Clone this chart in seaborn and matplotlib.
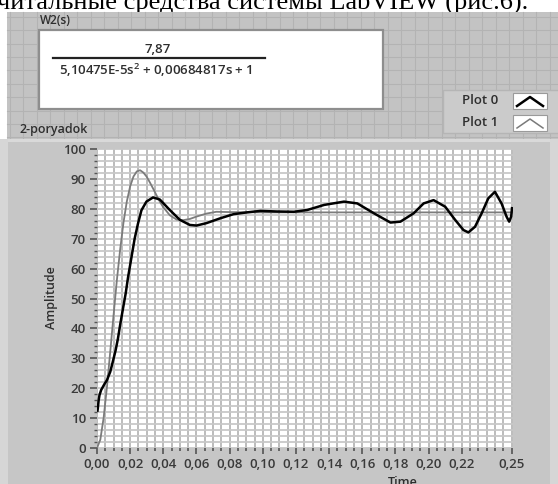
import matplotlib
matplotlib.use("Agg")
import numpy as np
import pandas as pd
import seaborn as sns
import matplotlib.pyplot as plt
from matplotlib.patches import Rectangle
from matplotlib.ticker import FixedLocator, FixedFormatter, MultipleLocator

# ---------------- data ----------------
# Plot 1 (gray): model step response
t_plot1 = [0.0, 0.002, 0.004, 0.006, 0.008, 0.010, 0.012, 0.014, 0.016, 0.018,
           0.020, 0.022, 0.024, 0.026, 0.028, 0.030, 0.032, 0.034, 0.036, 0.038,
           0.040, 0.044, 0.048, 0.052, 0.056, 0.060, 0.066, 0.072, 0.080, 0.100,
           0.150, 0.200, 0.2503]
a_plot1 = [0.0, 2.8, 10.1, 20.4, 32.3, 44.5, 56.2, 66.6, 75.5, 82.5,
           87.5, 90.8, 92.5, 92.9, 92.1, 90.7, 88.7, 86.6, 84.4, 82.3,
           80.5, 77.8, 76.4, 76.2, 76.6, 77.4, 78.4, 79.0, 78.9, 78.8,
           78.8, 78.8, 78.8]

# Plot 0 (black): measured response
t_plot0 = [0.0003, 0.0005, 0.001, 0.0015, 0.0025, 0.0045, 0.006, 0.008, 0.0096, 0.0112,
           0.0126, 0.014, 0.0156, 0.0173, 0.0187, 0.0207, 0.0227, 0.0247, 0.0268, 0.0298,
           0.0338, 0.0379, 0.0439, 0.050, 0.056, 0.060, 0.066, 0.0742, 0.0823, 0.0904,
           0.0985, 0.1086, 0.1187, 0.1268, 0.137, 0.149, 0.157, 0.167, 0.177, 0.183,
           0.191, 0.197, 0.203, 0.210, 0.216, 0.221, 0.224, 0.228, 0.232, 0.236,
           0.240, 0.244, 0.247, 0.2486, 0.2498, 0.2503]
a_plot0 = [12.5, 13.3, 16.0, 17.7, 19.4, 21.4, 22.7, 25.5, 29.0, 32.6,
           36.5, 41.3, 46.4, 51.7, 57.0, 63.5, 70.0, 75.0, 79.5, 82.4,
           83.8, 83.1, 79.6, 76.3, 74.6, 74.4, 75.2, 76.8, 78.2, 78.8,
           79.3, 79.1, 79.0, 79.6, 81.3, 82.4, 81.8, 78.5, 75.4, 75.7,
           78.5, 81.8, 82.9, 80.7, 76.3, 72.9, 72.1, 74.0, 78.5, 83.5,
           85.7, 81.8, 77.4, 75.7, 77.4, 80.2]

x_tick_vals = [0.0, 0.02, 0.04, 0.06, 0.08, 0.10, 0.12, 0.14, 0.16, 0.18, 0.20, 0.22, 0.25]
x_tick_labels = ["0,00", "0,02", "0,04", "0,06", "0,08", "0,10", "0,12", "0,14",
                 "0,16", "0,18", "0,20", "0,22", "0,25"]
y_tick_vals = [0, 10, 20, 30, 40, 50, 60, 70, 80, 90, 100]
y_tick_labels = ["0", "10", "20", "30", "40", "50", "60", "70", "80", "90", "100"]

legend_names = ["Plot 0", "Plot 1"]
graph_title = "2-poryadok"
tf_name = "W2(s)"
tf_num = "7,87"
tf_den = "5,10475E-5s$^2$ + 0,00684817s + 1"
page_text = "читальные средства системы LabVIEW (рис.6)."

# ---------------- style ----------------
plt.rcParams["font.family"] = ["Open Sans", "DejaVu Sans"]
plt.rcParams["font.weight"] = "semibold"
plt.rcParams["mathtext.fontset"] = "custom"
plt.rcParams["mathtext.rm"] = "Open Sans:semibold"
plt.rcParams["mathtext.it"] = "Open Sans:semibold"

W, H = 558, 484
fig = plt.figure(figsize=(W / 100, H / 100), dpi=100)
fig.patch.set_facecolor("white")

# background / front panel in pixel coordinates
bg = fig.add_axes([0, 0, 1, 1], zorder=0)
bg.set_xlim(0, W)
bg.set_ylim(H, 0)
bg.axis("off")

txt_col = "#2e2e2e"
bg.text(-3, 9.5, page_text, family=["Liberation Serif", "DejaVu Serif"],
        fontweight="normal", fontsize=19, va="baseline", ha="left",
        color="black", zorder=0)

bg.add_patch(Rectangle((7, 12), W - 7, H - 12, fc="#c3c3c3", ec="none", zorder=1))
for gx in np.arange(9.5, W, 13.5):
    bg.plot([gx, gx], [12, 139], color="#b3b3b3", lw=0.8, zorder=1.1)
for gy in np.arange(16.7, 139, 13.4):
    bg.plot([7, W], [gy, gy], color="#b3b3b3", lw=0.8, zorder=1.1)

# transfer-function box
bg.add_patch(Rectangle((39, 30), 344, 79, fc="white", ec="#8e8e8e", lw=1.6, zorder=2))
bg.text(40, 21, tf_name, fontsize=8.5, color=txt_col, va="center", ha="left", zorder=3)
bg.text(158, 49.5, tf_num, fontsize=9.5, color=txt_col, va="center", ha="center", zorder=3)
bg.plot([53, 265], [57.5, 57.5], color="#222222", lw=1.6, zorder=3)
bg.text(59, 70, tf_den, fontsize=9.5, color=txt_col, va="center", ha="left", zorder=3)

# legend
bg.add_patch(Rectangle((443, 90), 120, 43, fc="#cbcbcb", ec="#b5b5b5", lw=1.0, zorder=2))
bg.add_patch(Rectangle((513, 93), 34, 16, fc="white", ec="#9a9a9a", lw=0.8, zorder=3))
bg.add_patch(Rectangle((513, 115), 34, 16, fc="white", ec="#9a9a9a", lw=0.8, zorder=3))
bg.plot([517, 530, 543], [106, 97, 106], color="black", lw=1.8, zorder=4)
bg.plot([517, 530, 543], [128, 119, 128], color="#7a7a7a", lw=1.1, zorder=4)
bg.text(498, 101, legend_names[0], fontsize=9.5, color=txt_col, va="center", ha="right", zorder=3)
bg.text(498, 123, legend_names[1], fontsize=9.5, color=txt_col, va="center", ha="right", zorder=3)

# graph frame
bg.text(19, 129, graph_title, fontsize=9, color=txt_col, va="center", ha="left", zorder=3)
bg.add_patch(Rectangle((0, 139), W, H - 139, fc="#c6c6c6", ec="none", zorder=2))
bg.add_patch(Rectangle((0, 139), W, 2.5, fc="#d9d9d9", ec="none", zorder=2.1))
bg.add_patch(Rectangle((0, 139), 8, H - 139, fc="#d6d6d6", ec="none", zorder=2.1))
bg.add_patch(Rectangle((550, 139), 8, H - 139, fc="#d6d6d6", ec="none", zorder=2.1))
bg.text(52, 298, "Amplitude", rotation=90, fontsize=9, color=txt_col,
        va="center", ha="center", zorder=3)
bg.text(403, 476, "Time", fontsize=9, color=txt_col, va="top", ha="center", zorder=3)

# ---------------- chart ----------------
ax = fig.add_axes([97 / W, (H - 448) / H, (512.5 - 97) / W, (448 - 149) / H], zorder=2)
ax.set_facecolor("white")

df1 = pd.DataFrame({"Time": t_plot1, "Amplitude": a_plot1})
df0 = pd.DataFrame({"Time": t_plot0, "Amplitude": a_plot0})
sns.lineplot(data=df1, x="Time", y="Amplitude", ax=ax, color="#7c7c7c", lw=1.3,
             estimator=None, sort=False, zorder=3)
sns.lineplot(data=df0, x="Time", y="Amplitude", ax=ax, color="black", lw=1.8,
             estimator=None, sort=False, zorder=4)

ax.set_xlim(0, 0.2506)
ax.set_ylim(0, 100)
ax.set_xlabel("")
ax.set_ylabel("")

ax.xaxis.set_major_locator(FixedLocator(x_tick_vals))
ax.xaxis.set_major_formatter(FixedFormatter(x_tick_labels))
ax.xaxis.set_minor_locator(MultipleLocator(0.005))
ax.yaxis.set_major_locator(FixedLocator(y_tick_vals))
ax.yaxis.set_major_formatter(FixedFormatter(y_tick_labels))
ax.yaxis.set_minor_locator(MultipleLocator(2))

ax.grid(which="both", axis="x", color="#a9a9a9", lw=1.1, zorder=1)
ax.grid(which="both", axis="y", color="#c8c8c8", lw=1.3, zorder=1)
ax.set_axisbelow(True)
for s in ax.spines.values():
    s.set_visible(False)

ax.tick_params(axis="x", which="major", length=4, width=1.2, color="#555555",
               pad=3, labelsize=9.5, labelcolor="#3a3a3a")
ax.tick_params(axis="x", which="minor", length=2, width=1.2, color="#555555")
ax.tick_params(axis="y", which="major", length=5, width=1.2, color="#555555",
               pad=3, labelsize=9.5, labelcolor="#3a3a3a")
ax.tick_params(axis="y", which="minor", length=2.5, width=1.0, color="#555555")

fig.savefig("out.png", dpi=100, facecolor=fig.get_facecolor())
